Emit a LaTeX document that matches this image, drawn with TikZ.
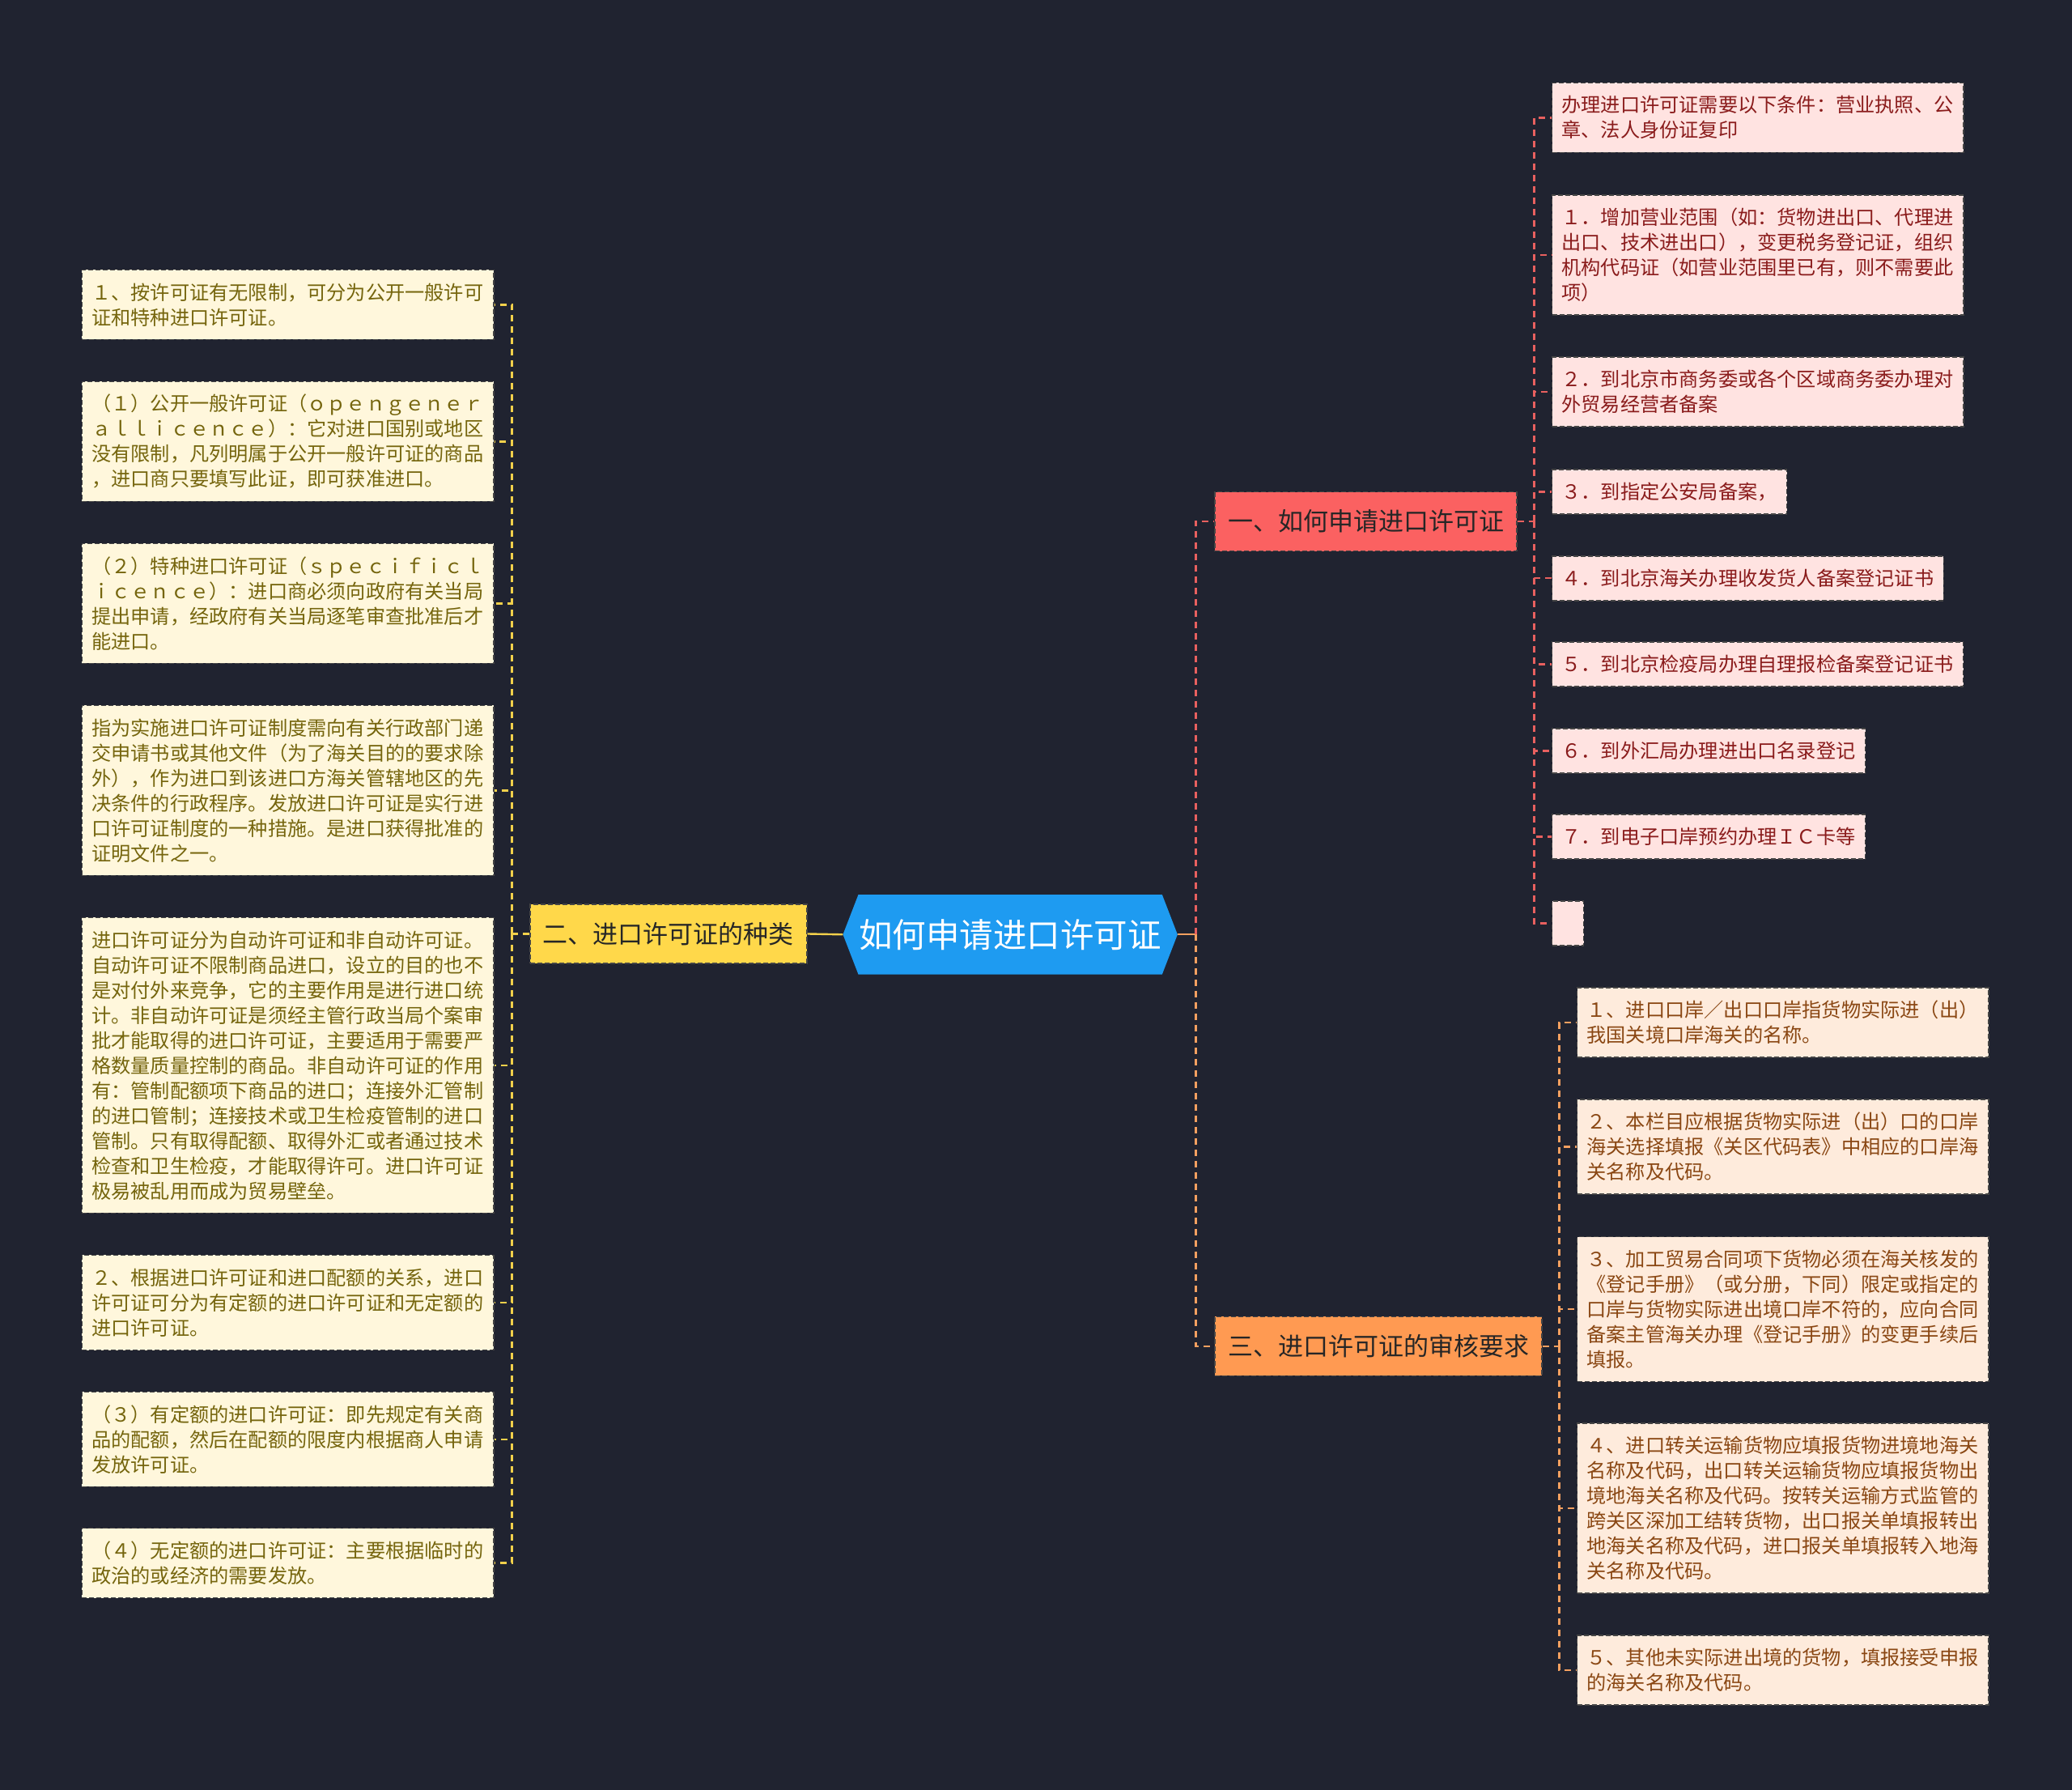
\documentclass[tikz,border=0pt]{standalone}
\usepackage{fontspec}
\setmainfont{Noto Sans CJK SC}
\usetikzlibrary{backgrounds}
\definecolor{bgc}{HTML}{202330}
\definecolor{rootc}{HTML}{1E9BF1}
\definecolor{yelc}{HTML}{FFD84A}
\definecolor{redc}{HTML}{FB6161}
\definecolor{orac}{HTML}{FF9A52}
\definecolor{ylc}{HTML}{F2D04B}
\definecolor{rlc}{HTML}{E8605F}
\definecolor{olc}{HTML}{F5A060}
\definecolor{lfill}{HTML}{FFF7DC}
\definecolor{ltext}{HTML}{75650D}
\definecolor{rfill}{HTML}{FFE3E1}
\definecolor{rtext}{HTML}{8A1C1C}
\definecolor{ofill}{HTML}{FEEBDC}
\definecolor{otext}{HTML}{8A4713}
\definecolor{bordc}{HTML}{454545}
\tikzset{
  boxline/.style={draw=bordc, line width=1.5pt, dash pattern=on 6pt off 3pt},
  branchbox/.style={boxline, inner xsep=16pt, inner ysep=0pt, minimum height=73pt,
    font=\fontsize{31}{37}\selectfont, text=black!85},
  leafbase/.style={boxline, inner xsep=12pt, inner ysep=4pt,
    font=\fontsize{24.2}{31}\selectfont},
  wide/.style={text width=484.5pt, align=left},
  nl/.style={minimum height={31*#1+24}},
  lleaf/.style={leafbase, wide, fill=lfill, text=ltext, anchor=east},
  rleaf/.style={leafbase, fill=rfill, text=rtext, anchor=west},
  oleaf/.style={leafbase, wide, fill=ofill, text=otext, anchor=west},
  conn/.style={line width=2.4pt, dash pattern=on 8pt off 6pt},
}
\begin{document}
\begin{tikzpicture}[x=1.63265pt, y=-1.63265pt]
\useasboundingbox (0,0) rectangle (1568,1354);
\begin{pgfonlayer}{background}
\fill[bgc] (0,0) rectangle (1568,1354);
\end{pgfonlayer}

% root
\node[minimum width=413pt, minimum height=98pt, inner sep=0pt, text=white,
  font=\fontsize{41.5}{48}\selectfont] (root) at (764.5,707) {如何申请进口许可证};
\begin{pgfonlayer}{background}
\fill[rootc] ([xshift=19pt]root.north west) -- ([xshift=-19pt]root.north east) -- (root.east)
  -- ([xshift=-19pt]root.south east) -- ([xshift=19pt]root.south west) -- (root.west) -- cycle;
\end{pgfonlayer}

% branches
\node[branchbox, fill=yelc, anchor=east] (b2) at (611,706.5) {二、进口许可证的种类};
\node[branchbox, fill=redc, anchor=west] (b1) at (919,394.5) {一、如何申请进口许可证};
\node[branchbox, fill=orac, anchor=west] (b3) at (919,1018.5) {三、进口许可证的审核要求};

% left leaves
\node[lleaf, nl=2] (l1) at (374,230.5) {１、按许可证有无限制，可分为公开一般许可\\证和特种进口许可证。};
\node[lleaf, nl=4] (l2) at (374,334) {（１）公开一般许可证（ｏｐｅｎｇｅｎｅｒ\\ａｌｌｉｃｅｎｃｅ）：它对进口国别或地区\\没有限制，凡列明属于公开一般许可证的商品\\，进口商只要填写此证，即可获准进口。};
\node[lleaf, nl=4] (l3) at (374,456.5) {（２）特种进口许可证（ｓｐｅｃｉｆｉｃｌ\\ｉｃｅｎｃｅ）：进口商必须向政府有关当局\\提出申请，经政府有关当局逐笔审查批准后才\\能进口。};
\node[lleaf, nl=6] (l4) at (374,598) {指为实施进口许可证制度需向有关行政部门递\\交申请书或其他文件（为了海关目的的要求除\\外），作为进口到该进口方海关管辖地区的先\\决条件的行政程序。发放进口许可证是实行进\\口许可证制度的一种措施。是进口获得批准的\\证明文件之一。};
\node[lleaf, nl=11] (l5) at (374,806) {进口许可证分为自动许可证和非自动许可证。\\自动许可证不限制商品进口，设立的目的也不\\是对付外来竞争，它的主要作用是进行进口统\\计。非自动许可证是须经主管行政当局个案审\\批才能取得的进口许可证，主要适用于需要严\\格数量质量控制的商品。非自动许可证的作用\\有：管制配额项下商品的进口；连接外汇管制\\的进口管制；连接技术或卫生检疫管制的进口\\管制。只有取得配额、取得外汇或者通过技术\\检查和卫生检疫，才能取得许可。进口许可证\\极易被乱用而成为贸易壁垒。};
\node[lleaf, nl=3] (l6) at (374,985.5) {２、根据进口许可证和进口配额的关系，进口\\许可证可分为有定额的进口许可证和无定额的\\进口许可证。};
\node[lleaf, nl=3] (l7) at (374,1089) {（３）有定额的进口许可证：即先规定有关商\\品的配额，然后在配额的限度内根据商人申请\\发放许可证。};
\node[lleaf, nl=2] (l8) at (374,1182.5) {（４）无定额的进口许可证：主要根据临时的\\政治的或经济的需要发放。};

% red leaves
\node[rleaf, wide, nl=2] (r0) at (1174,89) {办理进口许可证需要以下条件：营业执照、公\\章、法人身份证复印};
\node[rleaf, wide, nl=4] (r1) at (1174,193) {１．增加营业范围（如：货物进出口、代理进\\出口、技术进出口），变更税务登记证，组织\\机构代码证（如营业范围里已有，则不需要此\\项）};
\node[rleaf, wide, nl=2] (r2) at (1174,296.5) {２．到北京市商务委或各个区域商务委办理对\\外贸易经营者备案};
\node[rleaf, nl=1] (r3) at (1174,372) {３．到指定公安局备案，};
\node[rleaf, nl=1] (r4) at (1174,437.5) {４．到北京海关办理收发货人备案登记证书};
\node[rleaf, nl=1] (r5) at (1174,502.5) {５．到北京检疫局办理自理报检备案登记证书};
\node[rleaf, nl=1] (r6) at (1174,568) {６．到外汇局办理进出口名录登记};
\node[rleaf, nl=1] (r7) at (1174,633) {７．到电子口岸预约办理ＩＣ卡等};
\node[rleaf, nl=1, minimum width=39pt, inner xsep=0pt] (r8) at (1174,698.5) {};

% orange leaves
\node[oleaf, nl=2] (o1) at (1193,773.5) {１、进口口岸／出口口岸指货物实际进（出）\\我国关境口岸海关的名称。};
\node[oleaf, nl=3] (o2) at (1193,867.5) {２、本栏目应根据货物实际进（出）口的口岸\\海关选择填报《关区代码表》中相应的口岸海\\关名称及代码。};
\node[oleaf, nl=5] (o3) at (1193,990.5) {３、加工贸易合同项下货物必须在海关核发的\\《登记手册》（或分册，下同）限定或指定的\\口岸与货物实际进出境口岸不符的，应向合同\\备案主管海关办理《登记手册》的变更手续后\\填报。};
\node[oleaf, nl=6] (o4) at (1193,1141) {４、进口转关运输货物应填报货物进境地海关\\名称及代码，出口转关运输货物应填报货物出\\境地海关名称及代码。按转关运输方式监管的\\跨关区深加工结转货物，出口报关单填报转出\\地海关名称及代码，进口报关单填报转入地海\\关名称及代码。};
\node[oleaf, nl=2] (o5) at (1193,1263.5) {５、其他未实际进出境的货物，填报接受申报\\的海关名称及代码。};

% junctions
\coordinate (jr) at (905,707);
\coordinate (j2) at (387.5,706.5);
\coordinate (j1) at (1161,394.5);
\coordinate (j3) at (1180,1018.5);

% connectors
\draw[ylc, line width=2.4pt] (root.west) -- (b2.east);
\draw[olc, line width=2.4pt] (root.east) -- (jr);
\draw[rlc, conn] (jr) |- (b1.west);
\draw[olc, conn] (jr) |- (b3.west);

\draw[ylc, conn] (b2.west) -- (j2);
\foreach \n in {l1,l2,l3,l4,l5,l6,l7,l8} \draw[ylc, conn] (j2) |- (\n.east);

\draw[rlc, conn] (b1.east) -- (j1);
\foreach \n in {r0,r1,r2,r3,r4,r5,r6,r7,r8} \draw[rlc, conn] (j1) |- (\n.west);

\draw[olc, conn] (b3.east) -- (j3);
\foreach \n in {o1,o2,o3,o4,o5} \draw[olc, conn] (j3) |- (\n.west);
\end{tikzpicture}
\end{document}
